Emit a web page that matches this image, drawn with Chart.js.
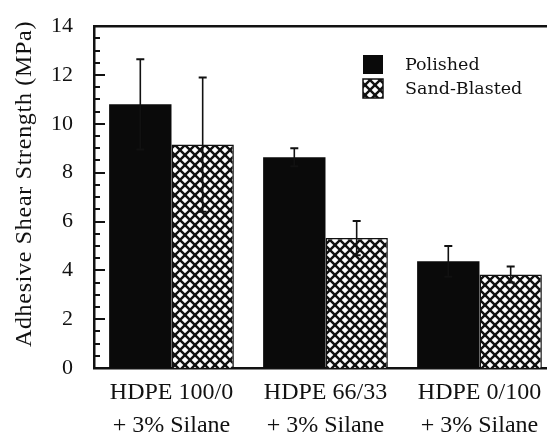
<!DOCTYPE html>
<html>
<head>
<meta charset="utf-8">
<script src="https://cdn.jsdelivr.net/npm/chart.js@4.4.1/dist/chart.umd.min.js"></script>
<style>
  html, body { margin: 0; padding: 0; background: #fff; }
  #wrap { width: 547px; height: 435px; }
</style>
</head>
<body>
<div id="wrap"><canvas id="chart" width="547" height="435"></canvas></div>
<script>
const categories = [
  ["HDPE 100/0", "+ 3% Silane"],
  ["HDPE 66/33", "+ 3% Silane"],
  ["HDPE 0/100", "+ 3% Silane"]
];
const seriesNames = ["Polished", "Sand-Blasted"];
const polished = [10.8, 8.63, 4.37];
const polishedErr = [1.85, 0.37, 0.63];
const sandBlasted = [9.15, 5.32, 3.83];
const sandBlastedErr = [2.75, 0.7, 0.33];
const yTicks = [0, 2, 4, 6, 8, 10, 12, 14];
const yTitle = "Adhesive Shear Strength (MPa)";

const serif = "'Liberation Serif', 'Times New Roman', Times, serif";

// cross-hatch fill
function hatch() {
  const p = document.createElement("canvas");
  p.width = p.height = 10;
  const c = p.getContext("2d");
  c.fillStyle = "#fff";
  c.fillRect(0, 0, 10, 10);
  c.strokeStyle = "#111";
  c.lineWidth = 2.4;
  for (let k = -1; k <= 1; k++) {
    c.beginPath(); c.moveTo(k * 10, 0); c.lineTo(k * 10 + 10, 10); c.stroke();
    c.beginPath(); c.moveTo(k * 10 + 10, 0); c.lineTo(k * 10, 10); c.stroke();
  }
  return c.createPattern(p, "repeat");
}
const hatchFill = hatch();

const xs = categories.map((_, i) => i + 1);
const toPoints = arr => arr.map((v, i) => ({ x: xs[i], y: v }));

// error bars, inner ticks, frame, legend, y title
const extras = {
  id: "extras",
  afterDatasetsDraw(chart) {
    const ctx = chart.ctx;
    const y = chart.scales.y;
    const errs = [polishedErr, sandBlastedErr];
    const vals = [polished, sandBlasted];
    ctx.save();
    ctx.strokeStyle = "#111";
    chart.data.datasets.forEach((ds, di) => {
      chart.getDatasetMeta(di).data.forEach((bar, i) => {
        const top = y.getPixelForValue(vals[di][i] + errs[di][i]);
        const bot = y.getPixelForValue(vals[di][i] - errs[di][i]);
        ctx.lineWidth = 1.6;
        ctx.beginPath(); ctx.moveTo(bar.x, top); ctx.lineTo(bar.x, bot); ctx.stroke();
        ctx.lineWidth = 2;
        ctx.beginPath();
        ctx.moveTo(bar.x - 4, top); ctx.lineTo(bar.x + 4, top);
        ctx.moveTo(bar.x - 4, bot); ctx.lineTo(bar.x + 4, bot);
        ctx.stroke();
      });
    });
    ctx.restore();
  },
  afterDraw(chart) {
    const ctx = chart.ctx;
    const a = chart.chartArea;
    const y = chart.scales.y;
    ctx.save();
    ctx.strokeStyle = "#111";
    ctx.lineWidth = 2;
    // minor / major ticks pointing inwards
    for (let v = 0; v <= 14.001; v += 0.5) {
      const py = Math.round(y.getPixelForValue(v));
      const major = Math.abs(v % 2) < 1e-6;
      ctx.beginPath();
      ctx.moveTo(a.left, py);
      ctx.lineTo(a.left + (major ? 11 : 6), py);
      ctx.stroke();
    }
    // top frame line
    ctx.lineWidth = 2.5;
    ctx.beginPath();
    ctx.moveTo(a.left, a.top);
    ctx.lineTo(a.right, a.top);
    ctx.stroke();

    // legend
    ctx.fillStyle = "#0a0a0a";
    ctx.fillRect(363, 55, 20, 19);
    ctx.fillStyle = hatchFill;
    ctx.fillRect(363, 79, 20, 19);
    ctx.lineWidth = 1.5;
    ctx.strokeRect(363, 79, 20, 19);
    ctx.fillStyle = "#111";
    ctx.font = "17.5px 'DejaVu Serif'";
    ctx.textBaseline = "middle";
    ctx.textAlign = "left";
    ctx.fillText(seriesNames[0], 405, 65);
    ctx.fillText(seriesNames[1], 405, 89);

    // y axis title
    ctx.translate(25, 184);
    ctx.rotate(-Math.PI / 2);
    ctx.font = "24px " + serif;
    ctx.letterSpacing = "0.7px";
    ctx.textAlign = "center";
    ctx.fillText(yTitle, 0, 0);
    ctx.restore();
  }
};

new Chart(document.getElementById("chart"), {
  type: "bar",
  data: {
    datasets: [
      {
        label: seriesNames[0],
        data: toPoints(polished),
        backgroundColor: "#0a0a0a",
        borderColor: "#0a0a0a",
        borderWidth: 0
      },
      {
        label: seriesNames[1],
        data: toPoints(sandBlasted),
        backgroundColor: hatchFill,
        borderColor: "#111",
        borderWidth: 1.5
      }
    ]
  },
  options: {
    responsive: false,
    animation: false,
    devicePixelRatio: 1,
    layout: { padding: { top: 25, left: 0, right: 0, bottom: 0 } },
    plugins: { legend: { display: false }, tooltip: { enabled: false } },
    datasets: { bar: { categoryPercentage: 0.81, barPercentage: 1 } },
    scales: {
      x: {
        type: "linear",
        offset: false,
        min: 0.4968,
        max: 3.4384,
        afterBuildTicks: s => { s.ticks = xs.map(v => ({ value: v })); },
        afterFit: s => { s.height = 67; },
        grid: { display: false, offset: false },
        border: { display: true, color: "#111", width: 2.5 },
        ticks: {
          color: "#111",
          padding: 0,
          font: { family: serif, size: 24, lineHeight: 1.38 },
          callback: (v, i) => categories[i]
        }
      },
      y: {
        min: 0,
        max: 14,
        afterBuildTicks: s => { s.ticks = yTicks.map(v => ({ value: v })); },
        afterFit: s => { s.width = 94; },
        grid: { display: false },
        border: { display: true, color: "#111", width: 2.5 },
        ticks: {
          color: "#111",
          padding: 13,
          font: { family: serif, size: 22 }
        }
      }
    }
  },
  plugins: [extras]
});
</script>
</body>
</html>
